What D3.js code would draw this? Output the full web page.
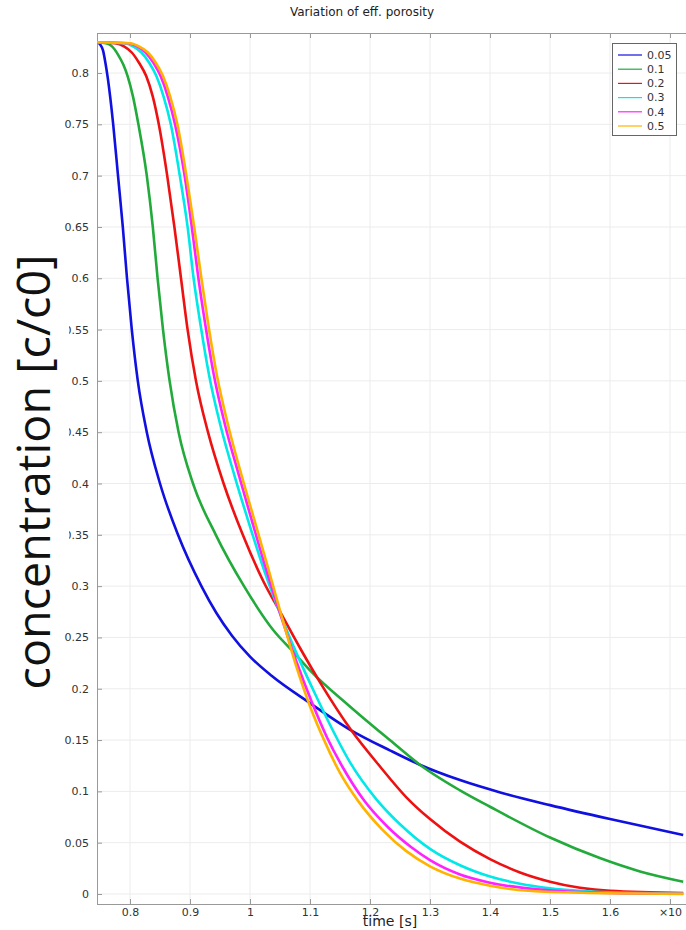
<!DOCTYPE html>
<html>
<head>
<meta charset="utf-8">
<script src="https://cdn.jsdelivr.net/npm/d3@7/dist/d3.min.js"></script>
<style>
  html, body { margin: 0; padding: 0; background: #fff; }
  svg { display: block; }
</style>
</head>
<body>
<svg id="chart" width="686" height="930"></svg>
<script>
// ---------- data ----------
const seriesNames = ["0.05", "0.1", "0.2", "0.3", "0.4", "0.5"];
const seriesColors = ["#1010e0", "#22aa3a", "#ee1111", "#00e8e8", "#ff22ff", "#ffb300"];

const time005 = [0.745, 0.750, 0.755, 0.759, 0.763, 0.772, 0.780, 0.788, 0.795, 0.803, 0.813, 0.828, 0.850, 0.880, 0.919, 0.944, 0.970, 1.000, 1.036, 1.100, 1.167, 1.233, 1.283, 1.350, 1.420, 1.500, 1.600, 1.722];
const conc005 = [0.830, 0.828, 0.822, 0.810, 0.795, 0.750, 0.700, 0.650, 0.600, 0.550, 0.500, 0.450, 0.400, 0.350, 0.300, 0.2738, 0.2517, 0.2313, 0.2126, 0.186, 0.160, 0.140, 0.126, 0.111, 0.0985, 0.0866, 0.073, 0.0575];

const time01 = [0.745, 0.760, 0.770, 0.780, 0.789, 0.796, 0.805, 0.814, 0.828, 0.838, 0.846, 0.855, 0.866, 0.881, 0.905, 0.943, 0.990, 1.039, 1.072, 1.100, 1.167, 1.233, 1.283, 1.350, 1.400, 1.500, 1.583, 1.650, 1.722];
const conc01 = [0.830, 0.829, 0.826, 0.818, 0.808, 0.797, 0.777, 0.750, 0.700, 0.650, 0.600, 0.550, 0.500, 0.450, 0.400, 0.350, 0.300, 0.257, 0.236, 0.218, 0.1825, 0.150, 0.126, 0.101, 0.085, 0.055, 0.035, 0.022, 0.012];

const time02 = [0.745, 0.775, 0.790, 0.803, 0.815, 0.827, 0.838, 0.848, 0.862, 0.874, 0.885, 0.896, 0.910, 0.930, 0.956, 0.988, 1.022, 1.053, 1.085, 1.117, 1.167, 1.217, 1.261, 1.300, 1.350, 1.400, 1.450, 1.500, 1.550, 1.600, 1.722];
const conc02 = [0.830, 0.829, 0.826, 0.820, 0.810, 0.797, 0.777, 0.750, 0.700, 0.650, 0.600, 0.550, 0.500, 0.450, 0.400, 0.350, 0.305, 0.272, 0.238, 0.206, 0.161, 0.124, 0.094, 0.073, 0.051, 0.034, 0.021, 0.012, 0.006, 0.003, 0.001];

const time03 = [0.745, 0.790, 0.805, 0.819, 0.832, 0.844, 0.856, 0.868, 0.883, 0.896, 0.906, 0.918, 0.932, 0.951, 0.974, 0.999, 1.025, 1.051, 1.078, 1.106, 1.135, 1.167, 1.211, 1.250, 1.300, 1.350, 1.400, 1.450, 1.500, 1.600, 1.722];
const conc03 = [0.830, 0.829, 0.826, 0.820, 0.810, 0.797, 0.777, 0.750, 0.700, 0.650, 0.600, 0.553, 0.505, 0.456, 0.408, 0.360, 0.313, 0.272, 0.234, 0.198, 0.163, 0.128, 0.092, 0.068, 0.044, 0.028, 0.017, 0.010, 0.0055, 0.0016, 0.0004];

const time04 = [0.745, 0.797, 0.812, 0.826, 0.839, 0.851, 0.863, 0.875, 0.891, 0.903, 0.914, 0.926, 0.940, 0.958, 0.980, 1.003, 1.027, 1.052, 1.077, 1.103, 1.128, 1.155, 1.189, 1.230, 1.270, 1.300, 1.350, 1.400, 1.500, 1.600, 1.722];
const conc04 = [0.830, 0.829, 0.826, 0.820, 0.810, 0.797, 0.777, 0.750, 0.700, 0.650, 0.600, 0.553, 0.505, 0.458, 0.411, 0.364, 0.316, 0.270, 0.227, 0.187, 0.153, 0.123, 0.092, 0.065, 0.045, 0.033, 0.019, 0.011, 0.0035, 0.001, 0.0002];

const time05 = [0.745, 0.800, 0.815, 0.830, 0.843, 0.855, 0.867, 0.879, 0.894, 0.907, 0.919, 0.931, 0.945, 0.963, 0.984, 1.007, 1.030, 1.053, 1.076, 1.100, 1.125, 1.150, 1.181, 1.220, 1.260, 1.300, 1.350, 1.400, 1.500, 1.722];
const conc05 = [0.830, 0.829, 0.826, 0.820, 0.810, 0.797, 0.777, 0.750, 0.700, 0.650, 0.600, 0.553, 0.505, 0.458, 0.412, 0.365, 0.318, 0.270, 0.224, 0.183, 0.148, 0.118, 0.090, 0.063, 0.042, 0.027, 0.015, 0.008, 0.002, 0.0001];

const seriesTimes = [time005, time01, time02, time03, time04, time05];
const seriesConcs = [conc005, conc01, conc02, conc03, conc04, conc05];

const xTickValues = [0.8, 0.9, 1.0, 1.1, 1.2, 1.3, 1.4, 1.5, 1.6, 1.7];
const xTickLabels = ["0.8", "0.9", "1", "1.1", "1.2", "1.3", "1.4", "1.5", "1.6", "\u00d710"];
const yTickValues = [0, 0.05, 0.1, 0.15, 0.2, 0.25, 0.3, 0.35, 0.4, 0.45, 0.5, 0.55, 0.6, 0.65, 0.7, 0.75, 0.8];
const yTickLabels = ["0", "0.05", "0.1", "0.15", "0.2", "0.25", "0.3", "0.35", "0.4", "0.45", "0.5", "0.55", "0.6", "0.65", "0.7", "0.75", "0.8"];

const titleText = "Variation of eff. porosity";
const xTitle = "time [s]";
const yTitle = "concentration [c/c0]";

// ---------- layout ----------
const svg = d3.select("#chart");
const pLeft = 97, pRight = 688, pTop = 33, pBottom = 904;
const x = d3.scaleLinear().domain([0.745, 1.73]).range([pLeft, pRight]);
const y = d3.scaleLinear().domain([-0.00975, 0.839]).range([pBottom, pTop]);
const font = "'DejaVu Sans', sans-serif";

// grid
const grid = svg.append("g");
grid.selectAll("line.gx").data(xTickValues).join("line")
  .attr("x1", d => x(d)).attr("x2", d => x(d))
  .attr("y1", pTop).attr("y2", pBottom)
  .attr("stroke", "#ececec").attr("stroke-width", 1);
grid.selectAll("line.gy").data(yTickValues).join("line")
  .attr("x1", pLeft).attr("x2", pRight)
  .attr("y1", d => y(d)).attr("y2", d => y(d))
  .attr("stroke", "#ececec").attr("stroke-width", 1);

// clip
svg.append("clipPath").attr("id", "plotclip").append("rect")
  .attr("x", pLeft).attr("y", pTop).attr("width", pRight - pLeft).attr("height", pBottom - pTop);

// axes
const axisColor = "#999";
const xAxisB = d3.axisBottom(x).tickValues(xTickValues).tickSize(-5).tickFormat((d, i) => xTickLabels[i]).tickPadding(4);
const gx = svg.append("g").attr("transform", `translate(0,${pBottom})`).call(xAxisB);
gx.select(".domain").attr("stroke", axisColor).attr("d", `M${pLeft},0.5H${pRight}`);
gx.selectAll(".tick line").attr("stroke", axisColor);
gx.selectAll(".tick text").attr("fill", "#333").style("font-family", font).style("font-size", "11px");

const xAxisT = d3.axisTop(x).tickValues(xTickValues).tickSize(-5).tickFormat("");
const gxt = svg.append("g").attr("transform", `translate(0,${pTop})`).call(xAxisT);
gxt.select(".domain").attr("stroke", axisColor).attr("d", `M${pLeft},0.5H${pRight}`);
gxt.selectAll(".tick line").attr("stroke", axisColor);

const yAxisL = d3.axisLeft(y).tickValues(yTickValues).tickSize(-5).tickFormat((d, i) => yTickLabels[i]).tickPadding(8);
const gy = svg.append("g").attr("transform", `translate(${pLeft},0)`).call(yAxisL);
gy.select(".domain").attr("stroke", axisColor).attr("d", `M0.5,${pTop}V${pBottom}`);
gy.selectAll(".tick line").attr("stroke", axisColor);
gy.selectAll(".tick text").attr("fill", "#333").style("font-family", font).style("font-size", "11px");

// curves
const lineGen = d3.line().x(d => x(d[0])).y(d => y(d[1])).curve(d3.curveMonotoneX);
const curves = svg.append("g").attr("clip-path", "url(#plotclip)");
seriesNames.forEach((name, i) => {
  const pts = seriesTimes[i].map((t, j) => [t, seriesConcs[i][j]]);
  curves.append("path").datum(pts)
    .attr("d", lineGen)
    .attr("fill", "none")
    .attr("stroke", seriesColors[i])
    .attr("stroke-width", 2.6)
    .attr("stroke-linejoin", "round");
});

// legend
const lg = svg.append("g");
lg.append("rect").attr("x", 612.5).attr("y", 43.5).attr("width", 64).attr("height", 92)
  .attr("fill", "#fff").attr("stroke", "#666").attr("stroke-width", 1);
const rowY = d3.scaleLinear().domain([0, 5]).range([55, 126]);
seriesNames.forEach((name, i) => {
  lg.append("line").attr("x1", 618).attr("x2", 642)
    .attr("y1", rowY(i)).attr("y2", rowY(i))
    .attr("stroke", seriesColors[i]).attr("stroke-width", 1.2);
  lg.append("text").attr("x", 647).attr("y", rowY(i)).attr("dy", "0.35em")
    .attr("fill", "#333").style("font-family", font).style("font-size", "11px").text(name);
});

// white patch that partly hides some y labels (as in reference)
svg.append("rect").attr("x", 0).attr("y", 300).attr("width", 69).attr("height", 260).attr("fill", "#fff");

// titles
svg.append("text").attr("x", 362).attr("y", 16).attr("text-anchor", "middle")
  .attr("fill", "#222").style("font-family", font).style("font-size", "12px").text(titleText);
svg.append("text").attr("x", 390).attr("y", 926).attr("text-anchor", "middle")
  .attr("fill", "#222").style("font-family", font).style("font-size", "14px").text(xTitle);
svg.append("text")
  .attr("transform", "translate(50,472) rotate(-90)")
  .attr("text-anchor", "middle")
  .attr("textLength", 435).attr("lengthAdjust", "spacingAndGlyphs")
  .attr("fill", "#111").style("font-family", "'Open Sans', sans-serif").style("font-size", "46px")
  .text(yTitle);
</script>
</body>
</html>
